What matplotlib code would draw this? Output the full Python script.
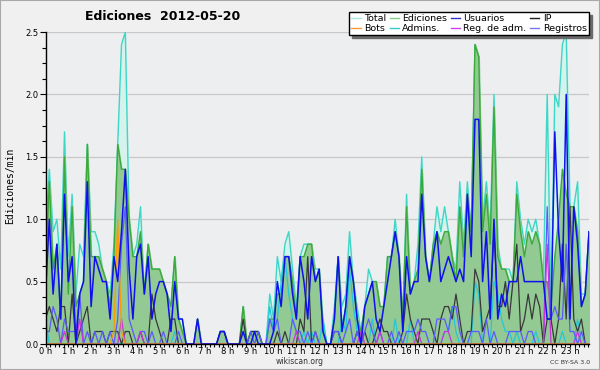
import matplotlib
matplotlib.use("Agg")
import matplotlib.pyplot as plt
import numpy as np
from matplotlib.lines import Line2D
from matplotlib.patches import Rectangle
from matplotlib.ticker import MultipleLocator, FixedLocator

# edits per minute, 10-minute bins, written in tenths (one row = one hour)
total = [
    9, 14, 9, 10, 6, 17,   7, 12, 4, 8, 7, 16,   9, 9, 8, 6, 5, 4,
    8, 16, 24, 25, 10, 7,  8, 11, 4, 8, 6, 6,    6, 5, 4, 3, 7, 2,
    2, 0, 0, 0, 2, 0,      0, 0, 0, 0, 1, 1,     0, 0, 0, 0, 3, 0,
    1, 1, 1, 0, 0, 4,      2, 7, 5, 8, 9, 6,     3, 7, 8, 8, 8, 6,
    6, 2, 0, 0, 3, 7,      3, 4, 9, 5, 3, 1,     3, 6, 5, 5, 3, 3,
    7, 7, 10, 7, 2, 12,    4, 5, 8, 15, 7, 5,    8, 11, 9, 11, 9, 7,
    6, 13, 8, 13, 9, 24,   23, 10, 13, 9, 20, 8, 6, 6, 6, 5, 13, 10,
    8, 10, 9, 10, 8, 5,    20, 3, 20, 19, 24, 25, 11, 11, 13, 4, 4, 9,
]
ediciones = [
    6, 13, 6, 8, 2, 15,    4, 11, 3, 4, 5, 16,   7, 7, 7, 6, 5, 3,
    7, 16, 14, 14, 10, 7,  7, 9, 4, 8, 6, 6,     6, 5, 4, 3, 7, 2,
    1, 0, 0, 0, 2, 0,      0, 0, 0, 0, 1, 1,     0, 0, 0, 0, 3, 0,
    1, 1, 1, 0, 0, 2,      2, 4, 4, 7, 7, 5,     2, 7, 7, 8, 8, 5,
    6, 1, 0, 0, 2, 7,      1, 3, 7, 5, 2, 1,     3, 4, 5, 5, 3, 3,
    7, 7, 9, 7, 2, 11,     4, 5, 6, 14, 7, 5,    8, 9, 8, 9, 9, 7,
    5, 11, 7, 12, 9, 24,   23, 9, 12, 8, 19, 7,  6, 6, 5, 5, 12, 9,
    7, 9, 8, 9, 8, 5,      5, 3, 7, 10, 14, 12,  11, 11, 9, 3, 4, 9,
]
usuarios = [
    4, 10, 4, 8, 2, 12,    5, 7, 0, 4, 5, 13,    3, 7, 6, 5, 5, 2,
    7, 5, 9, 14, 6, 2,     7, 8, 4, 7, 2, 4,     5, 5, 4, 1, 5, 2,
    2, 0, 0, 0, 2, 0,      0, 0, 0, 0, 1, 1,     0, 0, 0, 0, 1, 0,
    0, 1, 0, 0, 0, 0,      1, 5, 3, 7, 7, 4,     2, 7, 5, 2, 7, 5,
    6, 1, 0, 0, 2, 7,      1, 3, 7, 5, 2, 0,     3, 4, 5, 2, 1, 3,
    5, 7, 9, 7, 1, 7,      4, 5, 5, 12, 7, 5,    7, 9, 5, 6, 7, 6,
    5, 6, 5, 12, 7, 18,    18, 5, 9, 2, 10, 2,   4, 3, 5, 5, 5, 7,
    5, 5, 5, 5, 5, 5,      2, 2, 17, 9, 5, 20,   2, 11, 8, 3, 4, 9,
]
ip = [
    2, 3, 2, 1, 3, 3,      0, 4, 0, 1, 2, 3,     0, 1, 1, 1, 0, 1,
    1, 1, 0, 1, 1, 0,      0, 1, 0, 0, 4, 2,     1, 0, 0, 2, 2, 0,
    0, 0, 0, 0, 0, 0,      0, 0, 0, 0, 1, 1,     0, 0, 0, 0, 2, 0,
    1, 1, 1, 0, 0, 0,      0, 1, 0, 1, 0, 0,     0, 2, 1, 7, 0, 1,
    0, 0, 0, 0, 1, 1,      0, 0, 0, 0, 1, 0,     1, 0, 0, 1, 2, 1,
    1, 0, 0, 0, 1, 4,      2, 1, 0, 2, 2, 2,     1, 0, 2, 3, 3, 2,
    4, 2, 0, 1, 1, 6,      5, 1, 2, 3, 9, 3,     3, 5, 2, 5, 8, 1,
    2, 4, 2, 4, 3, 0,      2, 2, 0, 2, 8, 2,     11, 2, 1, 2, 0, 0,
]
bots = [0] * 18 + [1, 10, 1] + [0] * 123
admins = [
    2, 0, 0, 0, 0, 0,      0, 0, 0, 0, 0, 0,     0, 0, 0, 0, 0, 0,
    0, 0, 0, 0, 0, 0,      0, 0, 0, 0, 0, 0,     0, 0, 0, 0, 1, 0,
    0, 0, 0, 0, 0, 0,      0, 0, 0, 0, 0, 0,     0, 0, 0, 0, 0, 0,
    0, 0, 0, 0, 0, 3,      1, 2, 5, 7, 4, 2,     1, 0, 1, 0, 1, 0,
    0, 2, 0, 0, 0, 0,      2, 1, 6, 3, 1, 0,     0, 0, 2, 0, 0, 0,
    0, 0, 2, 0, 0, 0,      2, 0, 0, 0, 0, 0,     0, 0, 0, 1, 1, 3,
    1, 0, 0, 0, 0, 5,      4, 0, 0, 0, 5, 4,     2, 1, 1, 0, 1, 0,
    0, 0, 0, 1, 0, 0,      0, 0, 0, 0, 1, 0,     0, 0, 2, 0, 0, 0,
]
reg_adm = [
    0, 0, 0, 0, 0, 1,      0, 0, 0, 2, 0, 0,     0, 0, 0, 0, 0, 0,
    0, 0, 2, 0, 0, 0,      0, 1, 0, 0, 0, 0,     0, 0, 0, 0, 0, 0,
    0, 0, 0, 0, 0, 0,      0, 0, 0, 0, 0, 0,     0, 0, 0, 0, 0, 0,
    0, 0, 0, 0, 0, 0,      0, 0, 0, 0, 0, 0,     1, 0, 0, 0, 0, 0,
    0, 0, 0, 0, 0, 0,      0, 0, 0, 0, 0, 1,     0, 0, 0, 0, 1, 0,
    0, 0, 0, 0, 0, 0,      0, 0, 1, 0, 0, 0,     0, 0, 0, 1, 1, 0,
    0, 0, 0, 0, 0, 0,      0, 0, 0, 0, 0, 0,     0, 0, 0, 0, 0, 0,
    0, 0, 0, 0, 0, 0,      8, 0, 0, 0, 0, 0,     0, 0, 1, 0, 0, 0,
]
registros = [
    1, 1, 3, 2, 0, 2,      1, 1, 1, 4, 0, 1,     0, 1, 0, 1, 0, 1,
    0, 2, 8, 11, 2, 1,     0, 1, 1, 0, 1, 0,     0, 1, 0, 0, 0, 1,
    0, 0, 0, 0, 0, 0,      0, 0, 0, 0, 0, 0,     0, 0, 0, 0, 0, 0,
    1, 0, 1, 0, 0, 2,      1, 2, 0, 0, 0, 2,     1, 1, 0, 1, 0, 1,
    0, 0, 0, 0, 1, 1,      0, 1, 2, 0, 1, 0,     1, 2, 1, 0, 1, 0,
    0, 1, 0, 1, 0, 1,      1, 1, 2, 1, 1, 0,     0, 2, 2, 2, 1, 3,
    3, 1, 0, 0, 1, 1,      1, 0, 2, 0, 1, 0,     0, 0, 1, 1, 1, 1,
    0, 1, 1, 0, 0, 0,      11, 2, 3, 2, 2, 8,    1, 1, 0, 1, 0, 0,
]

hours = np.arange(len(total)) / 6.0


def per_min(v):
    return np.array(v) / 10.0


fig = plt.figure(figsize=(6, 3.7), dpi=100, facecolor="#f0f0f0")
fig.patches.append(Rectangle((0, 0), 1, 1, transform=fig.transFigure,
                             fill=False, edgecolor="#a8a8a8", lw=1.5))
ax = fig.add_axes([45.5 / 600, 26 / 370, 543.5 / 600, 312 / 370])
ax.set_facecolor("#eceef0")

ax.fill_between(hours, per_min(total), color="#d5f3ec", zorder=1)
ax.plot(hours, per_min(total), color="#3fd6c6", lw=1.0, zorder=2)
ax.fill_between(hours, per_min(ediciones), color="#93c993", zorder=3)
ax.plot(hours, per_min(ediciones), color="#3aaa3a", lw=1.0, zorder=4)
ax.plot(hours, per_min(admins), color="#22c8d8", lw=0.9, zorder=5)
ax.plot(hours, per_min(ip), color="#383838", lw=0.9, zorder=6)
ax.plot(hours, per_min(registros), color="#5a5aff", lw=0.9, zorder=6)
ax.plot(hours, per_min(reg_adm), color="#cc33dd", lw=0.9, zorder=7)
ax.plot(hours, per_min(bots), color="#ff9900", lw=0.9, zorder=7)
ax.plot(hours, per_min(usuarios), color="#1010ee", lw=1.1, zorder=8)

ax.set_xlim(0, hours[-1])
ax.set_ylim(0, 2.5)
ax.yaxis.set_major_locator(MultipleLocator(0.5))
ax.yaxis.set_minor_locator(MultipleLocator(0.125))
ax.set_yticklabels([f"{v:.1f}" for v in ax.get_yticks()])
ax.xaxis.set_major_locator(FixedLocator(range(24)))
ax.xaxis.set_minor_locator(MultipleLocator(0.2))
ax.set_xticklabels([f"{h} h" for h in range(24)])
ax.tick_params(axis="y", which="major", labelsize=6, length=4, width=0.8, pad=1)
ax.tick_params(axis="y", which="minor", length=3, width=0.8)
ax.tick_params(axis="x", which="both", labelsize=6, length=2.5, width=0.8, pad=0)
ax.grid(axis="y", color="#c8c8c8", lw=0.9, zorder=0)
ax.set_axisbelow(True)
for side in ("top", "right"):
    ax.spines[side].set_visible(False)
for side in ("left", "bottom"):
    ax.spines[side].set_linewidth(1.0)
    ax.spines[side].set_zorder(10)

fig.text(85 / 600, 1 - 16 / 370, "Ediciones  2012-05-20", fontsize=9,
         fontweight="bold", ha="left", va="center")
fig.text(10 / 600, 1 - 186 / 370, "Ediciones/min", rotation=90, fontsize=7,
         family="DejaVu Sans Mono", ha="center", va="center")
fig.text(300 / 600, 1 - 362 / 370, "wikiscan.org", fontsize=5.5,
         ha="center", va="center", color="#333333")
fig.text(590 / 600, 1 - 362 / 370, "CC BY-SA 3.0", fontsize=4.5,
         ha="right", va="center", color="#333333")

labels = ["Total", "Bots", "Ediciones", "Admins.", "Usuarios",
          "Reg. de adm.", "IP", "Registros"]
swatch = ["#a8e8e0", "#ff9933", "#88d088", "#33cccc", "#3333cc",
          "#cc44ee", "#222222", "#7777ee"]
handles = [Line2D([], [], color=c, lw=1.0) for c in swatch]
fig.legend(handles, labels, ncol=4, loc="upper right",
           bbox_to_anchor=(589 / 600, 1 - 12 / 370), fontsize=6.8,
           handlelength=1.0, handletextpad=0.35, columnspacing=0.35,
           borderpad=0.25, labelspacing=0.05, borderaxespad=0,
           fancybox=False, edgecolor="black", facecolor="white", framealpha=1,
           shadow={"color": "#6a6a6a", "alpha": 1})

fig.savefig("out.png", dpi=100, facecolor=fig.get_facecolor())
